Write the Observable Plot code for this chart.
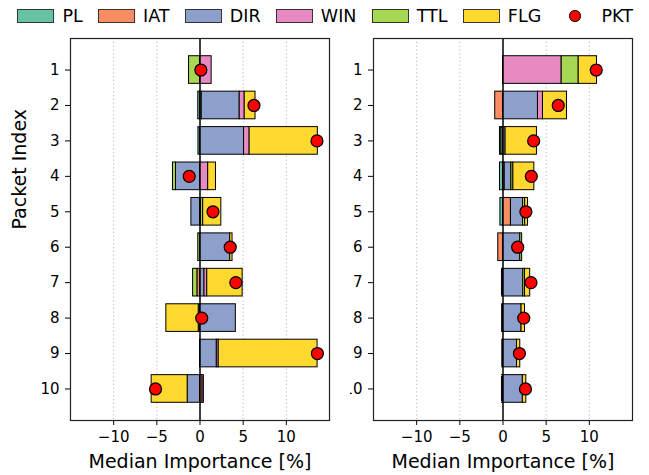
<!DOCTYPE html>
<html>
<head>
<meta charset="utf-8">
<script src="https://cdn.jsdelivr.net/npm/d3@7"></script>
<script src="https://cdn.jsdelivr.net/npm/@observablehq/plot@0.6"></script>
<style>
  body { margin: 0; background: white; }
  #wrap { position: relative; width: 649px; height: 475px; overflow: hidden; background: white; font-family: "DejaVu Sans", sans-serif; }
  #legend { position: absolute; z-index: 5; left: 17.4px; top: 0; height: 32px; display: flex; align-items: center; font-size: 17.5px; color: black; white-space: nowrap; }
  .item { display: flex; align-items: center; margin-right: 15.3px; }
  .sw { width: 37px; height: 13.4px; box-sizing: border-box; border: 1px solid #333; margin-right: 8px; }
  .dh { width: 37px; height: 14px; display: flex; align-items: center; justify-content: center; margin-right: 8px; }
  .dh span { width: 11.5px; height: 11.5px; box-sizing: border-box; border-radius: 50%; background: red; border: 1px solid black; }
  #left { position: absolute; left: 0; top: 0; z-index: 1; }
  #right { position: absolute; left: 350px; top: 0; z-index: 1; }
</style>
</head>
<body>
<div id="wrap">
  <div id="left"></div>
  <div id="right"></div>
  <div id="legend"></div>
</div>
<script>
// ---- data ----
const features = ["PL", "IAT", "DIR", "WIN", "TTL", "FLG"];
const featureColors = ["#66c2a5", "#fc8d62", "#8da0cb", "#e78ac3", "#a6d854", "#ffd92f"];
const packets = [1, 2, 3, 4, 5, 6, 7, 8, 9, 10];
const xTicks = [-10, -5, 0, 5, 10];
const gridTicks = [-10, -5, 5, 10];

// left panel
const leftPL  = [0, -0.2, -0.18, 0, 0.12, 0, 0, -0.15, 0, 0];
const leftIAT = [0, 0.2, 0, 0, 0, 0, -0.3, 0, 0, 0.3];
const leftDIR = [0, 4.4, 5.1, -2.78, -1.0, 3.5, 0.52, 4.15, 1.95, -1.43];
const leftWIN = [1.35, 0.58, 0.65, 0.95, 0, 0, 0.32, 0, 0.22, 0.15];
const leftTTL = [-1.27, 0, 0, -0.35, 0.25, -0.2, -0.5, 0, 0, 0];
const leftFLG = [0, 1.25, 7.9, 0.9, 2.1, 0.27, 4.1, -3.75, 11.45, -4.17];
const leftPKT = [0.1, 6.25, 13.55, -1.25, 1.5, 3.5, 4.15, 0.2, 13.6, -5.15];

// right panel
const rightPL  = [0, 0, -0.2, -0.35, -0.3, 0, -0.12, -0.1, -0.08, -0.12];
const rightIAT = [0, -0.9, -0.15, 0.2, 0.92, -0.55, 0, 0, 0, 0];
const rightDIR = [0, 4.05, 0.3, 0.77, 1.4, 2.0, 2.35, 2.15, 1.62, 2.3];
const rightWIN = [6.8, 0.58, 0, 0, 0, 0, 0, 0, 0, 0];
const rightTTL = [1.97, 0, 0, 0.23, 0.25, 0.22, 0.2, 0, 0, 0];
const rightFLG = [2.12, 2.78, 3.63, 2.43, 0.33, 0, 0.6, 0.4, 0.38, 0.4];
const rightPKT = [10.8, 6.4, 3.55, 3.28, 2.65, 1.7, 3.24, 2.4, 1.9, 2.6];

// ---- helpers ----
function rowsFor(arrs) {
  const out = [];
  packets.forEach((p, i) => features.forEach((f, j) => {
    const v = arrs[j][i];
    if (v !== 0) out.push({packet: p, feature: f, value: v});
  }));
  return out;
}
const fmt = d => d < 0 ? "\u2212" + (-d) : String(d);

function panel({arrs, pkt, width, marginLeft, marginRight, yLabel}) {
  const rows = rowsFor(arrs);
  const dots = packets.map((p, i) => ({packet: p, value: pkt[i]}));
  const marks = [
    Plot.ruleX(gridTicks, {stroke: "#b0b0b0", strokeWidth: 0.9, strokeDasharray: "1.2,2.6"}),
    Plot.barX(rows, Plot.stackX({y: "packet", x: "value", fill: "feature", stroke: "black", strokeWidth: 1})),
    Plot.ruleX([0], {stroke: "black", strokeWidth: 1.5}),
    Plot.dot(dots, {x: "value", y: "packet", r: 6, fill: "red", stroke: "black", strokeWidth: 1.2}),
    Plot.frame({stroke: "#222", strokeWidth: 1.2}),
    Plot.text(["Median Importance [%]"], {frameAnchor: "bottom", dy: 47, fontSize: 19, fill: "black"})
  ];
  if (yLabel) marks.push(Plot.text([yLabel], {frameAnchor: "left", dx: -51, rotate: -90, fontSize: 19, fill: "black"}));
  return Plot.plot({
    width, height: 475,
    marginTop: 38, marginBottom: 55, marginLeft, marginRight,
    style: {fontFamily: "DejaVu Sans", fontSize: "15px", color: "black", background: "white"},
    x: {domain: [-15, 15], ticks: xTicks, tickFormat: fmt, tickSize: 5, tickPadding: 6, label: null},
    y: {type: "band", domain: packets, round: false, paddingInner: 0.22, paddingOuter: 0.5, tickSize: 5, tickPadding: 6, label: null},
    color: {domain: features, range: featureColors},
    marks
  });
}

document.getElementById("left").append(panel({
  arrs: [leftPL, leftIAT, leftDIR, leftWIN, leftTTL, leftFLG], pkt: leftPKT,
  width: 340, marginLeft: 70, marginRight: 11, yLabel: "Packet Index"
}));
document.getElementById("right").append(panel({
  arrs: [rightPL, rightIAT, rightDIR, rightWIN, rightTTL, rightFLG], pkt: rightPKT,
  width: 299, marginLeft: 23, marginRight: 17, yLabel: null
}));

// legend
const lg = document.getElementById("legend");
features.forEach((f, i) => {
  const it = document.createElement("div"); it.className = "item";
  const sw = document.createElement("div"); sw.className = "sw"; sw.style.background = featureColors[i];
  const t = document.createElement("span"); t.textContent = f;
  it.append(sw, t); lg.append(it);
});
{
  const it = document.createElement("div"); it.className = "item";
  const dh = document.createElement("div"); dh.className = "dh"; dh.append(document.createElement("span"));
  const t = document.createElement("span"); t.textContent = "PKT";
  it.append(dh, t); lg.append(it);
}
</script>
</body>
</html>
